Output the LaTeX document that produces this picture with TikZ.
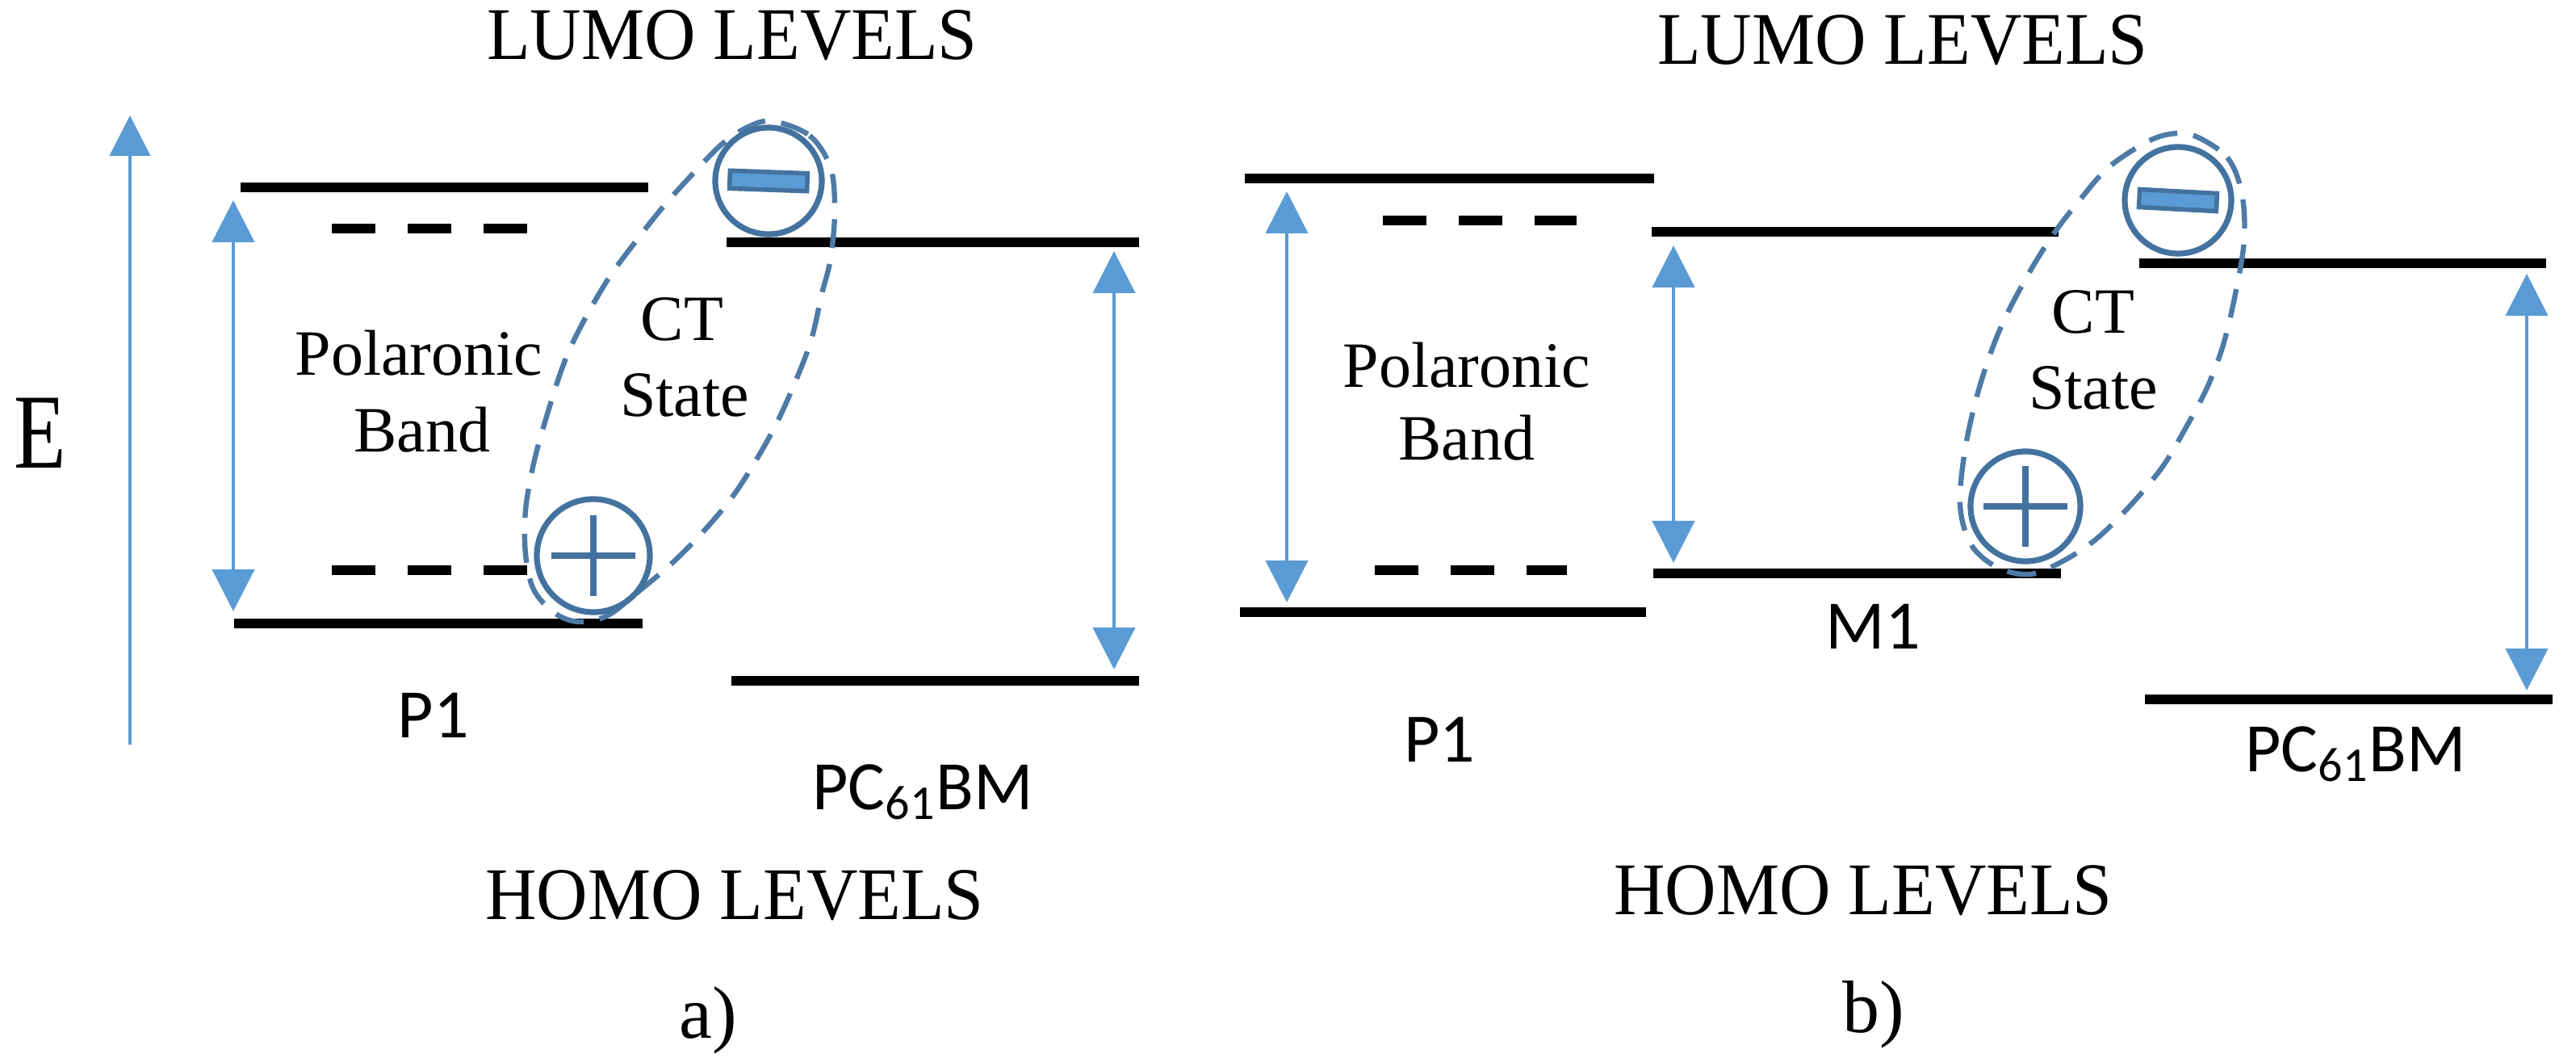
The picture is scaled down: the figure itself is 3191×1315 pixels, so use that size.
\documentclass[tikz,border=0pt]{standalone}
\usepackage{fontspec}
\setmainfont{Liberation Serif}
\newfontfamily\calfont{Carlito}
\usetikzlibrary{arrows.meta,calc}
\definecolor{arrowblue}{HTML}{5B9BD5}
\definecolor{chargeblue}{HTML}{44729F}
\definecolor{ctblue}{HTML}{4E7AA6}
\tikzset{
  level/.style={line width=2.9pt, black},
  dashlevel/.style={line width=2.9pt, black, dash pattern=on 13.5pt off 10pt},
  gaparrow/.style={arrowblue, line width=1.1pt,
    {Triangle[length=13pt,width=13pt]}-{Triangle[length=13pt,width=13pt]}},
  axisarrow/.style={arrowblue, line width=1.1pt, -{Triangle[length=12.5pt,width=12.5pt]}},
  charge/.style={circle, draw=chargeblue, line width=1.8pt, minimum size=33pt, inner sep=0pt},
  plusarm/.style={chargeblue, line width=2pt},
  minusbar/.style={fill=arrowblue, draw=chargeblue, line width=1.4pt},
  ctstate/.style={ctblue, line width=1.6pt, dash pattern=on 9pt off 5pt},
  big/.style={font=\fontsize{23}{27}\selectfont, inner sep=0pt, anchor=base},
  mid/.style={font=\fontsize{20}{24}\selectfont, inner sep=0pt, anchor=base},
  cal/.style={font=\calfont\fontsize{21.5}{25}\selectfont, inner sep=0pt, anchor=base},
  elabel/.style={font=\fontsize{33}{38}\selectfont, inner sep=0pt, anchor=base},
}
\begin{document}
\begin{tikzpicture}[x=0.25pt,y=-0.25pt]
\useasboundingbox (0,0) rectangle (3191,1315);

% ================= panel a =================
\node[elabel] (E) at (50,580) {\scalebox{0.8}[1]{E}};
\coordinate (axb) at (161,922);
\coordinate (axt) at (161,143);
\draw[axisarrow] (axb) -- (axt);

\node[big] (lumoA) at (907,74) {\scalebox{0.955}[1]{LUMO LEVELS}};
\node[big] (homoA) at (910,1138) {\scalebox{0.955}[1]{HOMO LEVELS}};
\node[big] (capA) at (877,1285) {a)};

% P1 levels
\draw[level] (298,232) -- (803,232);
\draw[level] (290,772) -- (796,772);
\draw[dashlevel] (411,283) -- (653,283);
\draw[dashlevel] (411,706) -- (653,706);
\coordinate (a1t) at (289,248);
\coordinate (a1b) at (289,757);
\draw[gaparrow] (a1t) -- (a1b);
\node[mid] (polA) at (519,465) {Polaronic};
\node[mid] (bandA) at (523,560) {Band};
\node[cal] (p1A) at (537,913) {P1};

% PC61BM levels
\draw[level] (900,300) -- (1411,300);
\draw[level] (906,843) -- (1411,843);
\coordinate (a2t) at (1380,311);
\coordinate (a2b) at (1380,829);
\draw[gaparrow] (a2t) -- (a2b);
\node[cal] (pcA) at (1143,1002) {PC\textsubscript{61}BM};

% CT state a
\draw[ctstate] plot[smooth cycle, tension=0.55] coordinates {
 (957,150) (1003,168) (1029,208) (1034,262) (1029,320) (1018,364) (1003,427)
 (972,503) (947,552) (911,610) (875,654) (835,695) (794,730) (753,762)
 (717,770) (687,759) (661,730) (651,686) (651,632) (661,574) (677,516)
 (697,454) (717,409) (753,346) (789,297) (824,253) (865,208) (896,177) (927,157)};
\node[mid] (ctA) at (845,422) {CT};
\node[mid] (stA) at (848,516) {State};
\node[charge] (minA) at (952,224) {};
\draw[minusbar, rotate around={-2:(minA.center)}]
  ($(minA.center)+(-48,-11)$) rectangle ($(minA.center)+(48,11)$);
\node[charge, minimum size=35pt] (plusA) at (735,688) {};
\draw[plusarm] ($(plusA.center)+(-52,0)$) -- ($(plusA.center)+(52,0)$);
\draw[plusarm] ($(plusA.center)+(0,-50)$) -- ($(plusA.center)+(0,50)$);

% ================= panel b =================
\node[big] (lumoB) at (2357,80) {\scalebox{0.955}[1]{LUMO LEVELS}};
\node[big] (homoB) at (2308,1132) {\scalebox{0.955}[1]{HOMO LEVELS}};
\node[big] (capB) at (2321,1278) {b)};

% P1
\draw[level] (1542,221) -- (2049,221);
\draw[level] (1536,758) -- (2039,758);
\draw[dashlevel] (1713,273) -- (1953,273);
\draw[dashlevel] (1703,706) -- (1941,706);
\coordinate (b1t) at (1594,237);
\coordinate (b1b) at (1594,746);
\draw[gaparrow] (b1t) -- (b1b);
\node[mid] (polB) at (1817,480) {Polaronic};
\node[mid] (bandB) at (1817,570) {Band};
\node[cal] (p1B) at (1783,943) {P1};

% M1
\draw[level] (2046,287) -- (2550,287);
\draw[level] (2048,710) -- (2553,710);
\coordinate (b2t) at (2073,304);
\coordinate (b2b) at (2073,697);
\draw[gaparrow] (b2t) -- (b2b);
\node[cal] (m1B) at (2320,803) {M1};

% PC61BM
\draw[level] (2650,326) -- (3154,326);
\draw[level] (2657,866) -- (3162,866);
\coordinate (b3t) at (3130,339);
\coordinate (b3b) at (3130,855);
\draw[gaparrow] (b3t) -- (b3b);
\node[cal] (pcB) at (2918,955) {PC\textsubscript{61}BM};

% CT state b
\draw[ctstate] plot[smooth cycle, tension=0.55] coordinates {
 (2718,168) (2759,195) (2777,239) (2780,297) (2769,364) (2754,427) (2734,480)
 (2708,529) (2678,579) (2637,628) (2596,668) (2555,695) (2515,711) (2475,703)
 (2442,675) (2428,625) (2435,552) (2453,476) (2479,404) (2514,337) (2545,288)
 (2576,248) (2611,208) (2657,177) (2688,166)};
\node[mid] (ctB) at (2593,413) {CT};
\node[mid] (stB) at (2593,507) {State};
\node[charge] (minB) at (2698,248) {};
\draw[minusbar, rotate around={-3:(minB.center)}]
  ($(minB.center)+(-48,-11)$) rectangle ($(minB.center)+(48,11)$);
\node[charge, minimum size=34pt] (plusB) at (2509,627) {};
\draw[plusarm] ($(plusB.center)+(-52,0)$) -- ($(plusB.center)+(52,0)$);
\draw[plusarm] ($(plusB.center)+(0,-50)$) -- ($(plusB.center)+(0,50)$);
\end{tikzpicture}
\end{document}
